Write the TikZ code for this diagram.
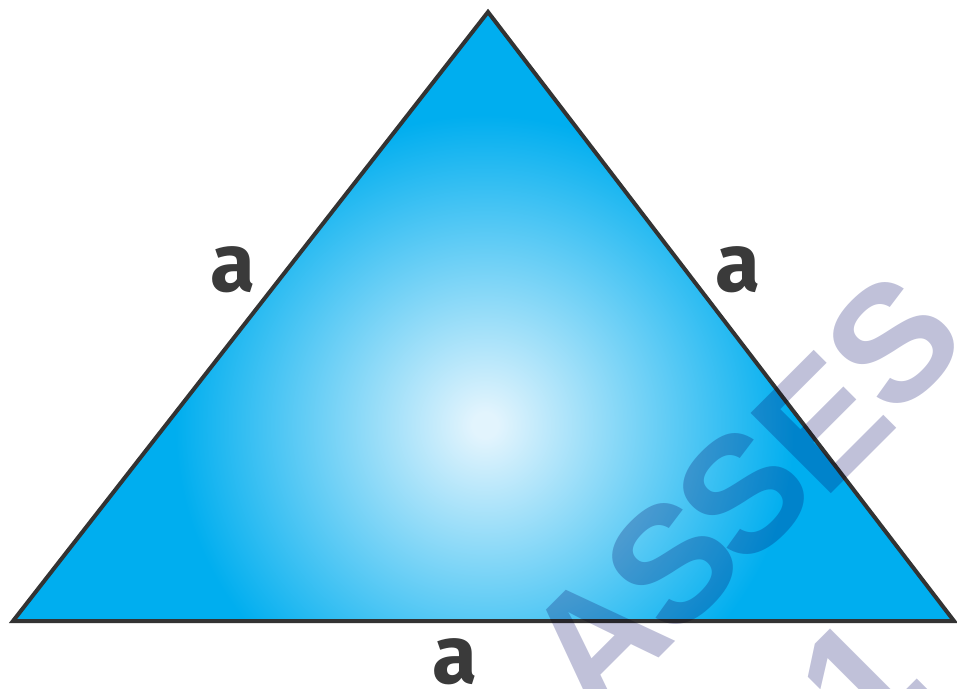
\documentclass[tikz,border=0pt]{standalone}
\usepackage{fontspec}
\setmainfont{Fira Sans}
\newfontfamily\wmfont{Liberation Sans}
\definecolor{edgegray}{HTML}{333333}
\definecolor{labelgray}{HTML}{3A3A3A}
\definecolor{skyin}{HTML}{E2F4FD}
\definecolor{skyout}{HTML}{00AEEF}
\definecolor{wmcolor}{RGB}{192,193,217}
\pgfdeclareradialshading{triglow}{\pgfpoint{0bp}{0bp}}{color(0bp)=(skyin); color(1bp)=(skyin); color(25bp)=(skyout); color(50bp)=(skyout)}
\begin{document}
\begin{tikzpicture}[x=1pt,y=-1pt,
  sidelabel/.style={text=labelgray,font=\fontsize{82}{82}\selectfont\bfseries,inner sep=0pt},
  wmark/.style={text=wmcolor,font=\wmfont\fontsize{165}{165}\selectfont\bfseries,inner sep=0pt,rotate=45}]
\useasboundingbox (0,0) rectangle (957,688);
\coordinate (T) at (488,12);
\coordinate (L) at (13,621);
\coordinate (R) at (954,621);
\coordinate (C) at (485,425);
\fill[skyout] (T) -- (L) -- (R) -- cycle;
\begin{scope}
\clip (T) -- (L) -- (R) -- cycle;
\shade[shading=triglow] (C) circle (310);
\end{scope}
\draw[edgegray,line width=4,line join=miter] (T) -- (L) -- (R) -- cycle;
\node[sidelabel] (la) at (233,270) {a};
\node[sidelabel] (ra) at (738,270) {a};
\node[sidelabel] (ba) at (455,662) {a};
\begin{scope}[blend mode=multiply]
\node[wmark] (w1) at (596,640) {A};
\node[wmark] (w2) at (672,563) {S};
\node[wmark] (w3) at (743,493) {S};
\node[wmark] (w4) at (822,422) {E};
\node[wmark] (w5) at (893,342) {S};
\node[wmark] (w6) at (860,680) {1};
\end{scope}
\end{tikzpicture}
\end{document}
